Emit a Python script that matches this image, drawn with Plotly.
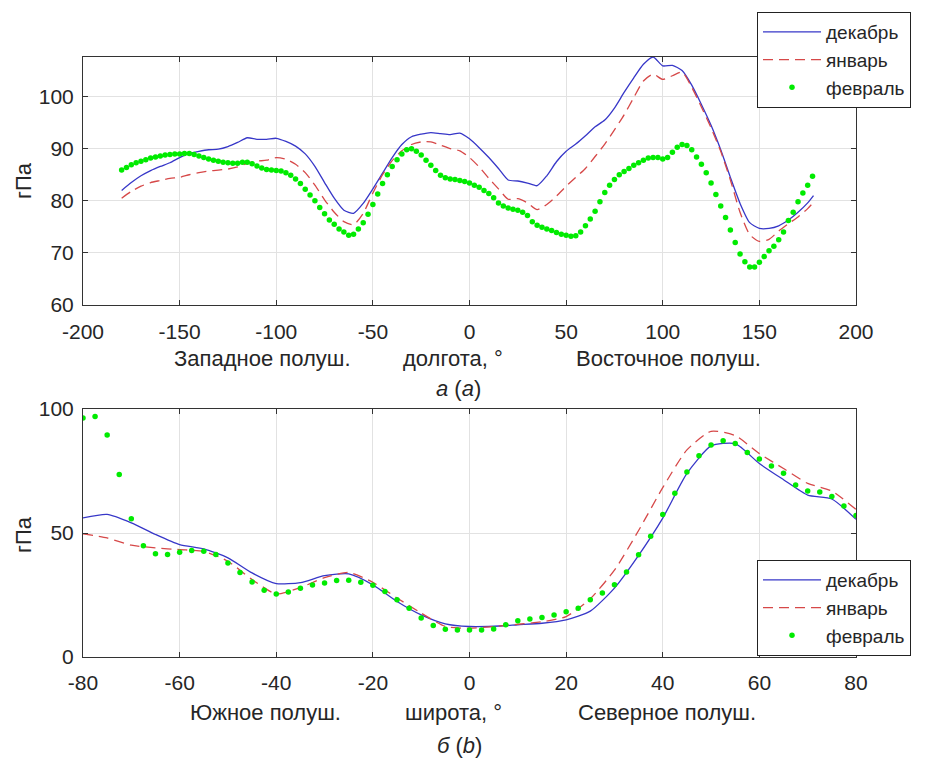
import numpy as np
import plotly.graph_objects as go

# ---------------- data: top panel (longitude) ----------------
lon_lines = list(np.arange(-180, 180, 5)) + [178]
dec_lon = [82.0, 83.5, 84.8, 85.8, 86.6, 87.3, 88.3, 89.1, 89.5, 89.8, 89.9, 90.4,
           91.2, 92.1, 91.8, 91.8, 92.0, 91.4, 90.5, 89.0, 86.6, 83.5, 80.5, 78.2,
           77.6, 79.5, 82.3, 85.3, 88.3, 90.8, 92.3, 92.8, 93.1, 92.9, 92.7, 93.0,
           91.9, 90.2, 88.3, 86.2, 84.0, 83.8, 83.4, 82.9, 84.8, 87.5, 89.5, 90.9,
           92.5, 94.2, 95.5, 97.8, 100.8, 103.6, 106.2, 107.6, 105.9, 106.0, 105.0, 102.2,
           98.5, 94.5, 89.8, 84.5, 79.5, 75.8, 74.7, 74.7, 75.2, 76.3, 77.8, 79.6, 81.0]
jan_lon = [80.5, 81.8, 82.8, 83.5, 83.9, 84.3, 84.5, 85.0, 85.4, 85.7, 85.9, 86.1,
           86.5, 87.2, 87.6, 87.8, 88.3, 88.0, 87.0, 85.4, 83.0, 80.2, 77.8, 76.0,
           75.4, 77.6, 81.5, 85.0, 87.7, 89.6, 90.8, 91.3, 91.3, 90.7, 90.0, 89.6,
           88.3, 86.5, 84.3, 82.3, 80.3, 80.4, 79.6, 78.3, 79.3, 80.9, 82.8, 84.5,
           86.2, 88.5, 90.9, 93.6, 96.5, 99.8, 103.0, 104.3, 103.3, 104.0, 104.7, 101.8,
           98.0, 94.0, 89.5, 84.0, 77.8, 73.5, 72.2, 72.6, 74.2, 75.6, 76.9, 78.5, 79.7]
lon_dots = list(np.arange(-180, 180, 2.5))
feb_lon = [85.9, 86.4, 86.9, 87.3, 87.6, 87.9, 88.2, 88.4, 88.6, 88.8, 88.9, 89.0,
           89.0, 89.1, 89.1, 88.9, 88.6, 88.3, 88.0, 87.8, 87.6, 87.4, 87.3, 87.2,
           87.2, 87.4, 87.4, 87.1, 86.7, 86.3, 86.0, 85.9, 85.8, 85.7, 85.4, 84.9,
           84.2, 83.3, 82.2, 81.1, 80.0, 78.7, 77.5, 76.3, 75.5, 74.6, 74.0, 73.4,
           73.6, 74.6, 75.8, 77.4, 79.3, 81.3, 83.3, 85.0, 86.6, 87.9, 89.0, 89.8,
           90.0, 89.5, 88.8, 87.8, 86.8, 85.8, 84.9, 84.4, 84.2, 84.1, 83.9, 83.7,
           83.4, 83.0, 82.6, 82.0, 81.4, 80.6, 79.6, 79.0, 78.6, 78.4, 78.2, 77.8,
           77.2, 76.0, 75.3, 74.9, 74.6, 74.3, 73.9, 73.6, 73.4, 73.2, 73.3, 74.0,
           75.2, 76.5, 78.0, 79.8, 81.6, 83.0, 84.1, 85.0, 85.6, 86.2, 86.8, 87.3,
           87.8, 88.2, 88.3, 88.3, 88.0, 88.3, 89.3, 90.3, 90.8, 90.6, 89.8, 88.4,
           87.0, 85.4, 83.4, 81.2, 79.0, 76.8, 74.4, 72.0, 69.8, 68.3, 67.3, 67.3,
           68.2, 69.3, 70.4, 71.3, 72.5, 74.0, 76.2, 77.8, 79.8, 81.5, 83.0, 84.7]

# ---------------- data: bottom panel (latitude) ----------------
lat_lines = list(np.arange(-80, 81, 5))
dec_lat = [56.1, 57.5, 54.1, 49.4, 45.3, 43.6, 40.0, 33.9, 29.6, 30.0, 32.8, 33.5,
           29.1, 22.4, 17.0, 13.4, 12.3, 12.4, 13.0, 13.6, 15.0, 18.5, 27.8, 41.0,
           56.0, 74.0, 85.1, 86.0, 78.0, 71.5, 65.3, 63.7, 55.5]
jan_lat = [49.7, 48.0, 45.1, 44.0, 43.3, 42.6, 38.6, 31.2, 25.4, 28.0, 32.0, 34.1,
           30.1, 23.8, 17.7, 12.3, 11.6, 12.3, 13.2, 14.2, 16.3, 23.5, 35.0, 51.0,
           68.3, 83.5, 91.0, 89.3, 82.0, 76.0, 70.0, 66.9, 59.5]
lat_dots = list(np.arange(-80, 80.1, 2.5))
feb_lat = [96.4, 97.0, 89.5, 73.6, 55.7, 44.9, 41.6, 41.3, 42.2, 42.9, 42.6, 41.3,
           37.9, 34.1, 30.2, 26.9, 25.4, 26.2, 27.7, 29.0, 29.8, 30.8, 30.9, 30.1,
           28.9, 26.4, 23.1, 19.7, 15.7, 12.7, 11.2, 10.9, 10.9, 10.9, 11.3, 13.0,
           14.6, 15.3, 15.9, 16.9, 18.2, 19.7, 23.1, 25.8, 29.1, 34.3, 41.2, 48.7,
           57.5, 66.0, 74.6, 81.1, 85.5, 87.2, 86.1, 82.5, 79.8, 77.0, 74.1, 69.4,
           66.9, 66.5, 64.7, 60.9, 57.1]

names = ["декабрь", "январь", "февраль"]
x1_ticks = [-200, -150, -100, -50, 0, 50, 100, 150, 200]
y1_ticks = [60, 70, 80, 90, 100]
x2_ticks = [-80, -60, -40, -20, 0, 20, 40, 60, 80]
y2_ticks = [0, 50, 100]

# ---------------- styling ----------------
OFF = 8                      # page body margin in the browser
W, H = 925 - OFF, 758 - OFF  # figure size so that it fills the window
FONT = "Liberation Sans, Arial, sans-serif"
TXT = "#262626"
BLUE = "rgb(55,55,200)"
RED = "rgb(214,72,72)"
GREEN = "rgb(0,235,0)"
TICK_SIZE = 21
LABEL_SIZE = 22
LEGEND_SIZE = 19

def px_x(p):
    return (p - OFF) / W

def px_y(p):
    return 1 - (p - OFF) / H

fig = go.Figure()

def add_set(xl, d, j, xd, f, xa, ya, leg):
    fig.add_trace(go.Scatter(x=xl, y=d, mode="lines", name=names[0],
                             line=dict(color=BLUE, width=1.3, shape="spline", smoothing=0.6),
                             xaxis=xa, yaxis=ya, legend=leg))
    fig.add_trace(go.Scatter(x=xl, y=j, mode="lines", name=names[1],
                             line=dict(color=RED, width=1.3, dash="10px,6px", shape="spline", smoothing=0.6),
                             xaxis=xa, yaxis=ya, legend=leg))
    fig.add_trace(go.Scatter(x=xd, y=f, mode="markers", name=names[2],
                             marker=dict(color=GREEN, size=5.5, line=dict(width=0)),
                             xaxis=xa, yaxis=ya, legend=leg))

add_set(lon_lines, dec_lon, jan_lon, lon_dots, feb_lon, "x", "y", "legend")
add_set(lat_lines, dec_lat, jan_lat, lat_dots, feb_lat, "x2", "y2", "legend2")

def labels(vals):
    return [str(v) for v in vals]

xdom = [px_x(83), px_x(856)]
axis_common = dict(showline=True, linecolor="#333", linewidth=1, mirror="ticks",
                   ticks="inside", ticklen=5, tickcolor="#333", showgrid=True,
                   gridcolor="#e2e2e2", gridwidth=1, zeroline=False, automargin=False,
                   tickfont=dict(family=FONT, size=TICK_SIZE, color=TXT))

legend_common = dict(xanchor="left", yanchor="top", bordercolor="#222", borderwidth=1,
                     bgcolor="white", font=dict(family=FONT, size=LEGEND_SIZE, color=TXT),
                     itemwidth=58)

fig.update_layout(
    width=W, height=H, margin=dict(l=0, r=0, t=0, b=0, autoexpand=False),
    paper_bgcolor="white", plot_bgcolor="white",
    font=dict(family=FONT, color=TXT),
    xaxis=dict(domain=xdom, range=[-200, 200], tickvals=x1_ticks, ticktext=labels(x1_ticks),
               anchor="y", ticklabelstandoff=8, **axis_common),
    yaxis=dict(domain=[px_y(305), px_y(57)], range=[60, 107.6], tickvals=y1_ticks,
               ticktext=labels(y1_ticks), anchor="x", ticklabelstandoff=4, **axis_common),
    xaxis2=dict(domain=xdom, range=[-80, 80], tickvals=x2_ticks, ticktext=labels(x2_ticks),
                anchor="y2", ticklabelstandoff=7, **axis_common),
    yaxis2=dict(domain=[px_y(657), px_y(409)], range=[0, 100], tickvals=y2_ticks,
                ticktext=labels(y2_ticks), anchor="x2", ticklabelstandoff=4, **axis_common),
    legend=dict(x=px_x(757), y=px_y(12), **legend_common),
    legend2=dict(x=px_x(757), y=px_y(560), **legend_common),
)

def ann(text, x, y, size=LABEL_SIZE, angle=0):
    fig.add_annotation(text=text, x=px_x(x), y=px_y(y), xref="paper", yref="paper",
                       showarrow=False, textangle=angle,
                       font=dict(family=FONT, size=size, color=TXT),
                       xanchor="center", yanchor="middle")

ann("гПа", 23, 181, angle=-90)
ann("гПа", 23, 535, angle=-90)
ann("Западное полуш.", 262, 358)
ann("долгота, °", 453, 358)
ann("Восточное полуш.", 668, 358)
ann("<i>а</i> (<i>a</i>)", 458, 388)
ann("Южное полуш.", 265, 712)
ann("широта, °", 453, 712)
ann("Северное полуш.", 667, 712)
ann("<i>б</i> (<i>b</i>)", 459, 745)

fig.write_html("out.html")
